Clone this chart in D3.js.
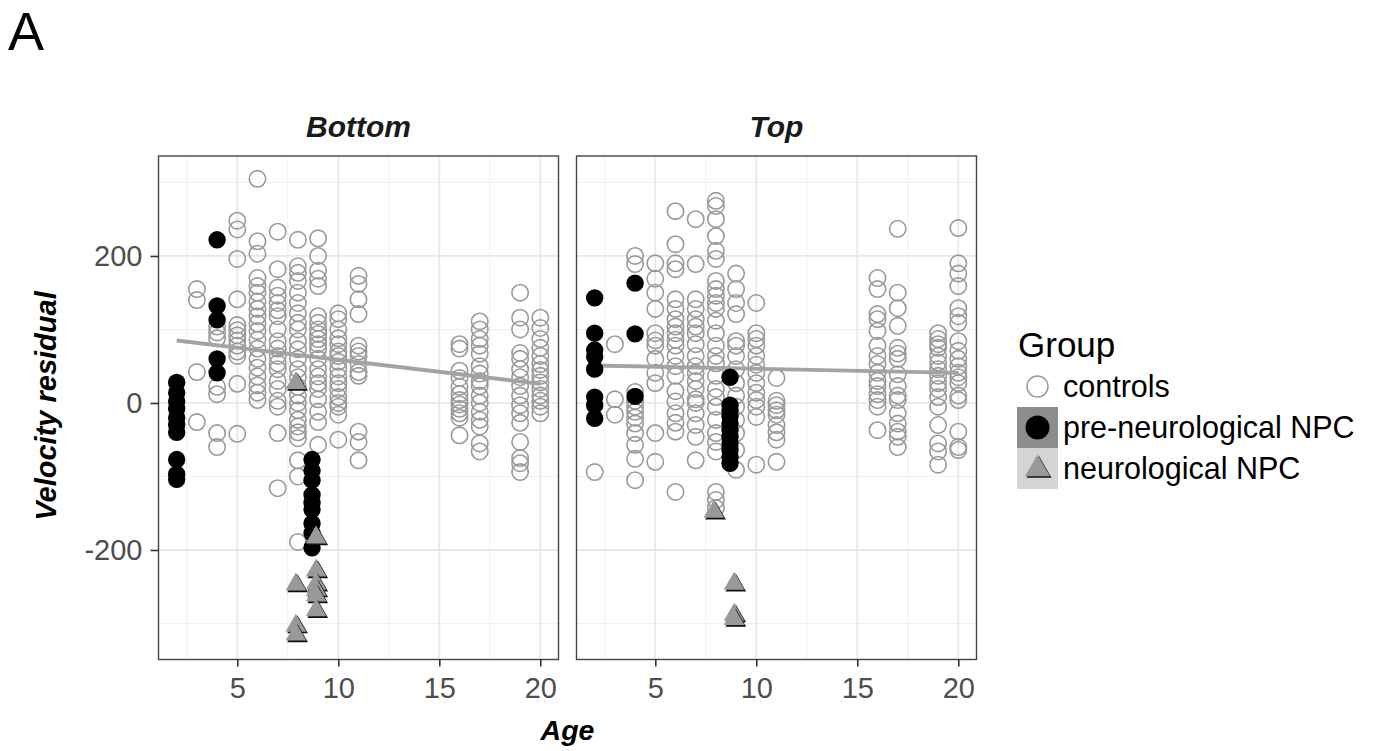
<!DOCTYPE html>
<html>
<head>
<meta charset="utf-8">
<script src="https://cdn.jsdelivr.net/npm/d3@7"></script>
<style>
  html, body { margin: 0; padding: 0; background: #fff; }
  svg { display: block; font-family: "Liberation Sans", Arial, Helvetica, sans-serif; }
</style>
</head>
<body>
<svg id="chart" width="1373" height="751"></svg>
<script>
// ---- Data -------------------------------------------------------------
const facets = ["Bottom", "Top"];
const groups = ["controls", "pre-neurological NPC", "neurological NPC"];
const ageTicks = [5, 10, 15, 20];
const residualTicks = [-200, 0, 200];

// controls: [age, residuals at that age]
const controlsBottom = [
  [3, [155, 140, 42, -26]],
  [4, [104, 96, 88, 22, 12, -41, -60]],
  [5, [248, 236, 196, 141, 106, 99, 92, 85, 78, 70, 64, 26, -42]],
  [6, [305, 220, 203, 170, 159, 150, 138, 128, 118, 108, 98, 86, 74, 60, 48, 36, 24, 14, 4]],
  [7, [233, 182, 157, 146, 136, 126, 118, 100, 84, 74, 64, 54, 46, 30, 19, 3, -5, -41, -116]],
  [8, [222, 186, 177, 166, 150, 136, 122, 109, 100, 84, 73, 60, 46, 35, 22, 10, 0, -10, -23, -32, -40, -48, -78, -100, -189]],
  [9, [224, 200, 180, 169, 159, 118, 109, 100, 94, 87, 80, 73, 60, 46, 36, 27, 19, 5, -12, -26, -57]],
  [10, [122, 114, 100, 88, 80, 70, 64, 56, 46, 36, 27, 19, 8, 0, -5, -16, -50]],
  [11, [173, 162, 141, 121, 78, 70, 64, 53, 42, 37, -39, -53, -78]],
  [16, [80, 74, 44, 34, 22, 12, 4, -2, -8, -14, -20, -44]],
  [17, [111, 100, 87, 78, 67, 50, 40, 30, 23, 10, 0, -12, -23, -32, -55, -66]],
  [19, [150, 116, 100, 68, 60, 46, 35, 23, 10, -3, -14, -27, -53, -75, -82, -94]],
  [20, [116, 102, 87, 75, 64, 53, 45, 37, 28, 19, 10, 3, -5, -14]]
];
const controlsTop = [
  [2, [-94]],
  [3, [80, 5, -16]],
  [4, [200, 189, 15, 3, -5, -12, -20, -28, -41, -57, -76, -105]],
  [5, [190, 169, 150, 128, 95, 85, 78, 60, 41, 27, -41, -80]],
  [6, [261, 216, 190, 182, 141, 128, 114, 104, 95, 86, 78, 64, 50, 37, 16, 2, -14, -27, -39, -121]],
  [7, [250, 189, 141, 128, 114, 104, 95, 80, 64, 50, 41, 30, 19, 5, 0, -14, -30, -46, -78]],
  [8, [275, 268, 250, 227, 207, 196, 166, 155, 146, 136, 128, 112, 95, 78, 64, 54, 37, 19, 8, -5, -23, -41, -53, -66, -121, -132, -143]],
  [9, [176, 155, 136, 121, 84, 78, 64, 46, 27, 10, -5, -23, -41, -64, -91]],
  [10, [136, 95, 87, 78, 64, 52, 41, 27, 14, 4, -5, -19, -84]],
  [11, [34, 3, -3, -10, -16, -30, -40, -50, -80]],
  [16, [170, 155, 121, 114, 98, 78, 64, 53, 41, 30, 23, 12, 4, -5, -37]],
  [17, [237, 150, 129, 105, 75, 67, 60, 39, 23, 10, 4, -14, -28, -39, -46, -60]],
  [19, [95, 87, 80, 75, 64, 55, 46, 37, 27, 19, 8, -5, -30, -55, -66, -84]],
  [20, [238, 190, 176, 159, 129, 118, 109, 84, 71, 60, 50, 41, 35, 27, 10, 4, -39, -60, -64]]
];

// pre-neurological NPC
const preNeuroBottom = [
  [2, [28, 14, 2, -8, -20, -30, -40, -77, -97, -104]],
  [4, [222, 132, 113, 60, 41]],
  [8.7, [-77, -92, -105, -125, -136, -145, -164, -177, -197]]
];
const preNeuroTop = [
  [2, [143, 95, 72, 63, 46, 8, -3, -21]],
  [4, [163, 94, 9]],
  [8.7, [35, -3, -10, -18, -28, -37, -46, -55, -64, -73, -82]]
];

// neurological NPC
const neuroBottom = [
  [7.9, [27, -247, -303, -315]],
  [8.9, [-183, -228, -246, -254, -262, -282]]
];
const neuroTop = [
  [7.9, [-148]],
  [8.9, [-246, -288, -294]]
];

// linear trend of controls: residual at age 2 and at age 20
const trendAges = [2, 20];
const trendBottom = [85, 26];
const trendTop = [51, 41];

// ---- Layout -----------------------------------------------------------
const svg = d3.select("#chart");
const panelTop = 156, panelBottom = 659.5;
const panelLeft = [158.5, 576.5];
const panelWidth = 400;

const y = d3.scaleLinear().domain([-349, 336]).range([panelBottom, panelTop]);

const flatten = rows => rows.flatMap(([age, vals]) => vals.map(v => ({ age, v })));

const panels = [
  { name: facets[0], controls: controlsBottom, pre: preNeuroBottom, neuro: neuroBottom, trend: trendBottom },
  { name: facets[1], controls: controlsTop, pre: preNeuroTop, neuro: neuroTop, trend: trendTop }
];

const triPath = d3.symbol(d3.symbolTriangle, 185)();

panels.forEach((p, i) => {
  const x = d3.scaleLinear().domain([1.1, 20.9]).range([panelLeft[i], panelLeft[i] + panelWidth]);
  const g = svg.append("g");

  // grid: minor then major
  const minorX = [2.5, 7.5, 12.5, 17.5];
  const minorY = [-300, -100, 100, 300];
  g.selectAll(".mx").data(minorX).join("line")
    .attr("x1", d => x(d)).attr("x2", d => x(d))
    .attr("y1", panelTop).attr("y2", panelBottom)
    .attr("stroke", "#f0f0f0").attr("stroke-width", 1);
  g.selectAll(".my").data(minorY).join("line")
    .attr("y1", d => y(d)).attr("y2", d => y(d))
    .attr("x1", x.range()[0]).attr("x2", x.range()[1])
    .attr("stroke", "#f0f0f0").attr("stroke-width", 1);
  g.selectAll(".Mx").data(ageTicks).join("line")
    .attr("x1", d => x(d)).attr("x2", d => x(d))
    .attr("y1", panelTop).attr("y2", panelBottom)
    .attr("stroke", "#e8e8e8").attr("stroke-width", 1.8);
  g.selectAll(".My").data(residualTicks).join("line")
    .attr("y1", d => y(d)).attr("y2", d => y(d))
    .attr("x1", x.range()[0]).attr("x2", x.range()[1])
    .attr("stroke", "#e8e8e8").attr("stroke-width", 1.8);

  // controls: hollow grey circles
  g.selectAll(".ctrl").data(flatten(p.controls)).join("circle")
    .attr("cx", d => x(d.age)).attr("cy", d => y(d.v)).attr("r", 8.2)
    .attr("fill", "none").attr("stroke", "#999").attr("stroke-width", 1.6);

  // trend line
  g.append("line")
    .attr("x1", x(trendAges[0])).attr("y1", y(p.trend[0]))
    .attr("x2", x(trendAges[1])).attr("y2", y(p.trend[1]))
    .attr("stroke", "#a3a3a3").attr("stroke-width", 3.8);

  // pre-neurological NPC: solid black
  g.selectAll(".pre").data(flatten(p.pre)).join("circle")
    .attr("cx", d => x(d.age)).attr("cy", d => y(d.v)).attr("r", 8.7)
    .attr("fill", "#000");

  // neurological NPC: grey triangles with dark edge
  const tri = g.selectAll(".tri").data(flatten(p.neuro)).join("g")
    .attr("transform", d => `translate(${x(d.age)},${y(d.v)})`);
  tri.append("path").attr("d", triPath).attr("transform", "translate(1.7,1.7)").attr("fill", "#111");
  tri.append("path").attr("d", triPath).attr("fill", "#999");

  // panel border
  g.append("rect")
    .attr("x", x.range()[0]).attr("y", panelTop)
    .attr("width", panelWidth).attr("height", panelBottom - panelTop)
    .attr("fill", "none").attr("stroke", "#444").attr("stroke-width", 1.4);

  // x axis
  const xa = svg.append("g").attr("transform", `translate(0,${panelBottom})`)
    .call(d3.axisBottom(x).tickValues(ageTicks).tickSize(7).tickPadding(11));
  xa.select(".domain").remove();
  xa.selectAll(".tick line").attr("stroke", "#333").attr("stroke-width", 1.6);
  xa.selectAll(".tick text").attr("fill", "#4d4d4d").attr("font-size", 29)
    .attr("font-family", "Liberation Sans, Arial, sans-serif");

  // facet title
  svg.append("text")
    .attr("x", x.range()[0] + panelWidth / 2).attr("y", 137)
    .attr("text-anchor", "middle").attr("font-size", 30)
    .attr("font-weight", "bold").attr("font-style", "italic").attr("fill", "#1a1a1a")
    .text(p.name);
});

// y axis on the first panel
const ya = svg.append("g").attr("transform", `translate(${panelLeft[0]},0)`)
  .call(d3.axisLeft(y).tickValues(residualTicks).tickSize(8).tickPadding(8)
    .tickFormat(d => d < 0 ? "-" + Math.abs(d) : String(d)));
ya.select(".domain").remove();
ya.selectAll(".tick line").attr("stroke", "#333").attr("stroke-width", 1.6);
ya.selectAll(".tick text").attr("fill", "#4d4d4d").attr("font-size", 29)
  .attr("font-family", "Liberation Sans, Arial, sans-serif");

// axis titles
svg.append("text")
  .attr("x", 567.5).attr("y", 740)
  .attr("text-anchor", "middle").attr("font-size", 28.5)
  .attr("font-weight", "bold").attr("font-style", "italic").attr("fill", "#000")
  .text("Age");
svg.append("text")
  .attr("transform", "translate(56,406) rotate(-90)")
  .attr("text-anchor", "middle").attr("font-size", 29)
  .attr("font-weight", "bold").attr("font-style", "italic").attr("fill", "#000")
  .text("Velocity residual");

// panel label
svg.append("text")
  .attr("x", 8).attr("y", 50).attr("font-size", 54).attr("fill", "#000")
  .text("A");

// ---- Legend -----------------------------------------------------------
const legend = svg.append("g").attr("transform", "translate(1017,0)");
legend.append("text").attr("x", 1).attr("y", 357)
  .attr("font-size", 35).attr("fill", "#000").text("Group");

const keyBg = ["#ffffff", "#8c8c8c", "#d4d4d4"];
const keyTop = [366, 407, 448];
groups.forEach((name, k) => {
  const cy = keyTop[k] + 20.5;
  legend.append("rect").attr("x", 0).attr("y", keyTop[k]).attr("width", 41).attr("height", 41)
    .attr("fill", keyBg[k]);
  if (k === 0) {
    legend.append("circle").attr("cx", 20.5).attr("cy", cy).attr("r", 10.5)
      .attr("fill", "none").attr("stroke", "#999").attr("stroke-width", 1.5);
  } else if (k === 1) {
    legend.append("circle").attr("cx", 20.5).attr("cy", cy).attr("r", 12).attr("fill", "#000");
  } else {
    const lt = d3.symbol(d3.symbolTriangle, 270)();
    legend.append("path").attr("d", lt).attr("transform", `translate(22,${cy + 2})`).attr("fill", "#111");
    legend.append("path").attr("d", lt).attr("transform", `translate(20.5,${cy + 0.5})`).attr("fill", "#999");
  }
  legend.append("text").attr("x", 46).attr("y", cy + 10.5)
    .attr("font-size", 30.5).attr("fill", "#000").text(name);
});
</script>
</body>
</html>
